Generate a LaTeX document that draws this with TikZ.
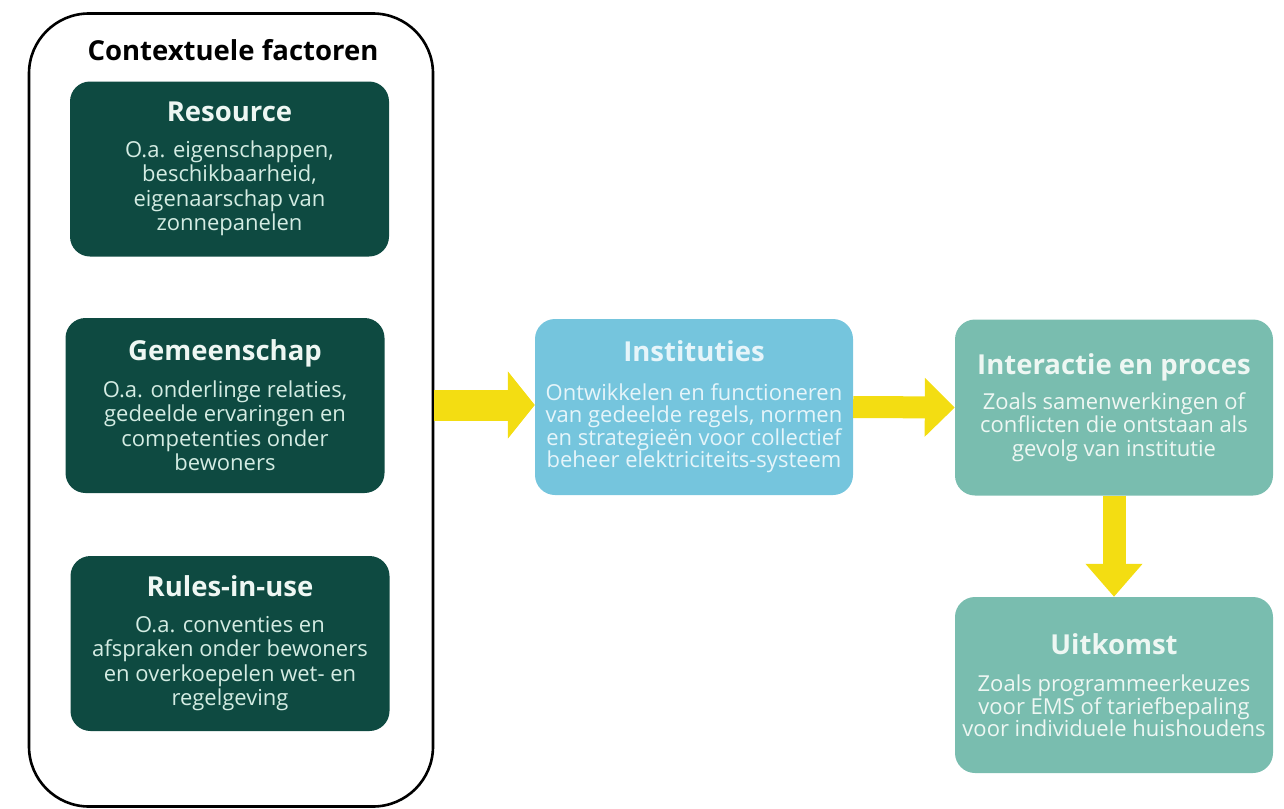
\documentclass[tikz,border=0pt]{standalone}
\usepackage{fontspec}
\setmainfont{Open Sans}
\usetikzlibrary{arrows.meta}

\definecolor{darkgreen}{HTML}{0E4A41}
\definecolor{instblue}{HTML}{75C5DD}
\definecolor{tealbox}{HTML}{79BDAF}
\definecolor{arrowyellow}{HTML}{F3DD12}
\definecolor{mintlight}{HTML}{D4ECE3}
\definecolor{mintwhite}{HTML}{EEF7F3}
\definecolor{bluewhite}{HTML}{E6F5FA}

\newcommand{\boxhead}[1]{{\fontsize{27.5}{32}\selectfont\bfseries #1}}

\tikzset{
  factorbox/.style={fill=darkgreen, rounded corners=20pt, minimum width=319pt,
    minimum height=175pt, inner sep=0pt, align=center, text=mintlight,
    font=\fontsize{22}{24.5}\selectfont},
  flowbox/.style={rounded corners=20pt, minimum width=318pt,
    minimum height=176pt, inner sep=0pt, align=center},
  bigarrow/.style={draw=arrowyellow, line width=#1},
  outerframe/.style={draw=black, line width=2.6pt, rounded corners=60pt,
    minimum width=404pt, minimum height=793pt, inner sep=0pt}
}

\begin{document}
\begin{tikzpicture}[x=1pt, y=-1pt]
\useasboundingbox (0,0) rectangle (1284,808);

% frame of the contextual factors
\node[outerframe] (ctx) at (231,410) {};
\node[font=\fontsize{27.5}{32}\selectfont\bfseries] (ctxtitle) at (233,50) {Contextuele factoren};

% three factor boxes
\node[factorbox] (res) at (229.5,169) {{\color{mintwhite}\boxhead{Resource}}\\[11.5pt]
  O.a. eigenschappen,\\ beschikbaarheid,\\ eigenaarschap van\\ zonnepanelen};
\node[factorbox] (gem) at (225,405.5) {{\color{mintwhite}\boxhead{Gemeenschap}}\\[12pt]
  O.a. onderlinge relaties,\\ gedeelde ervaringen en\\ competenties onder\\ bewoners};
\node[factorbox] (rul) at (230,643.5) {{\color{mintwhite}\boxhead{Rules-in-use}}\\[11pt]
  O.a. conventies en\\ afspraken onder bewoners\\ en overkoepelen wet- en\\ regelgeving};

% process boxes
\node[flowbox, fill=instblue, text=bluewhite, font=\fontsize{22}{22}\selectfont] (inst) at (694,407)
  {\boxhead{Instituties}\\[17pt]
   Ontwikkelen en functioneren\\ van gedeelde regels, normen\\ en strategieën voor collectief\\ beheer elektriciteits-systeem};
\node[flowbox, fill=tealbox, text=mintwhite, font=\fontsize{22}{23.5}\selectfont] (inter) at (1114,407.5)
  {\boxhead{Interactie en proces}\\[11pt]
   Zoals samenwerkingen of\\ conflicten die ontstaan als\\ gevolg van institutie};
\node[flowbox, fill=tealbox, text=mintwhite, font=\fontsize{22}{22.5}\selectfont] (uit) at (1114,685)
  {\boxhead{Uitkomst}\\[15pt]
   Zoals programmeerkeuzes\\ voor EMS of tariefbepaling\\ voor individuele huishoudens};

% yellow flow arrows
\draw[bigarrow=31pt, -{Triangle[length=27pt, width=66pt]}]
  ([yshift=2pt]ctx.east |- inst.west) -- ([yshift=2pt]inst.west);
\draw[bigarrow=22pt, -{Triangle[length=30pt, width=57pt]}] (inst.east) -- (inter.west);
\draw[bigarrow=23pt, -{Triangle[length=33pt, width=55pt]}] (inter.south) -- (uit.north);
\end{tikzpicture}
\end{document}
